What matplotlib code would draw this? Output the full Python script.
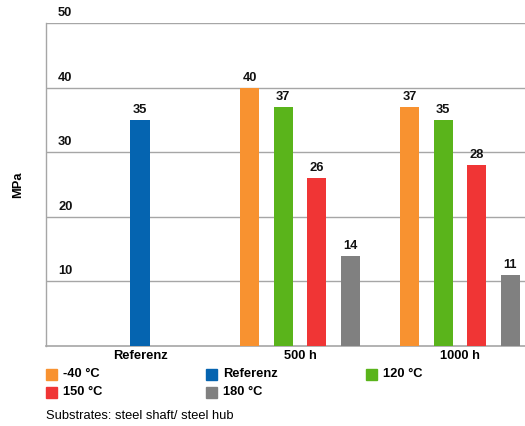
import numpy as np
import matplotlib
matplotlib.use('Agg')
import matplotlib.pyplot as plt
from matplotlib.patches import Rectangle

plt.rcParams['font.family'] = ['Liberation Sans', 'DejaVu Sans']

# Data
categories = ['Referenz', '500 h', '1000 h']
series_names = ['-40 °C', 'Referenz', '120 °C', '150 °C', '180 °C']
series_colors = ['#F89230', '#0564B0', '#5AB41B', '#F03535', '#808080']

# values per category
ref_values = {'Referenz': 35}
h500_values = {'-40 °C': 40, '120 °C': 37, '150 °C': 26, '180 °C': 14}
h1000_values = {'-40 °C': 37, '120 °C': 35, '150 °C': 28, '180 °C': 11}
group_values = [ref_values, h500_values, h1000_values]

y_ticks = [10, 20, 30, 40, 50]
note = 'Substrates: steel shaft/ steel hub'

W, H = 525, 426
fig = plt.figure(figsize=(W / 100, H / 100), dpi=100, facecolor='white')
ax = fig.add_axes([46 / W, (H - 346) / H, (W - 46) / W, (346 - 23) / H])

bar_w = 0.12
step = 0.209
color_of = dict(zip(series_names, series_colors))
lab_gap = 7 / 6.46  # ~7 px above, in data units

for ci, vals in enumerate(group_values):
    n = len(vals)
    offsets = (np.arange(n) - (n - 1) / 2) * step
    for off, (name, v) in zip(offsets, vals.items()):
        ax.bar(ci + off, v, width=bar_w, color=color_of[name], zorder=3)
        ax.text(ci + off, v + lab_gap, str(v), ha='center', va='baseline',
                fontsize=9.3, fontweight='bold', color='#111111')

ax.set_xlim(-0.5875, 2.406)
ax.set_ylim(0, 50)
ax.set_yticks(y_ticks)
ax.set_yticklabels([])
ax.tick_params(axis='y', length=0)
ax.grid(axis='y', color='#a6a6a6', linewidth=1.0, zorder=0)
for t in y_ticks:
    ax.text(-0.5875 + 12 / 160, t + lab_gap, str(t), ha='left', va='baseline',
            fontsize=9.3, fontweight='bold', color='#111111', clip_on=False)

ax.set_xticks(range(len(categories)))
ax.set_xticklabels(categories, fontsize=9.3, fontweight='bold')
ax.tick_params(axis='x', length=0, pad=3)

for side in ['top', 'right']:
    ax.spines[side].set_visible(False)
ax.spines['left'].set_color('#a6a6a6')
ax.spines['bottom'].set_color('#a6a6a6')
ax.spines['left'].set_linewidth(1.0)
ax.spines['bottom'].set_linewidth(1.2)

fig.text(18 / W, 1 - 185 / H, 'MPa', rotation=90, ha='center', va='center',
         fontsize=9.3, fontweight='bold')

# legend laid out row by row, 3 columns
col_x = [46, 206, 366]
row_y = [374, 392]
for i, (name, c) in enumerate(zip(series_names, series_colors)):
    r, k = divmod(i, 3)
    x, y = col_x[k], row_y[r]
    fig.patches.append(Rectangle((x / W, 1 - (y + 5.5) / H), 11 / W, 11 / H,
                                 transform=fig.transFigure, color=c))
    fig.text((x + 17) / W, 1 - y / H, name, ha='left', va='center',
             fontsize=9.3, fontweight='bold')

fig.text(46 / W, 1 - 416 / H, note, ha='left', va='center', fontsize=9.3)

fig.savefig('out.png', dpi=100, facecolor='white')
